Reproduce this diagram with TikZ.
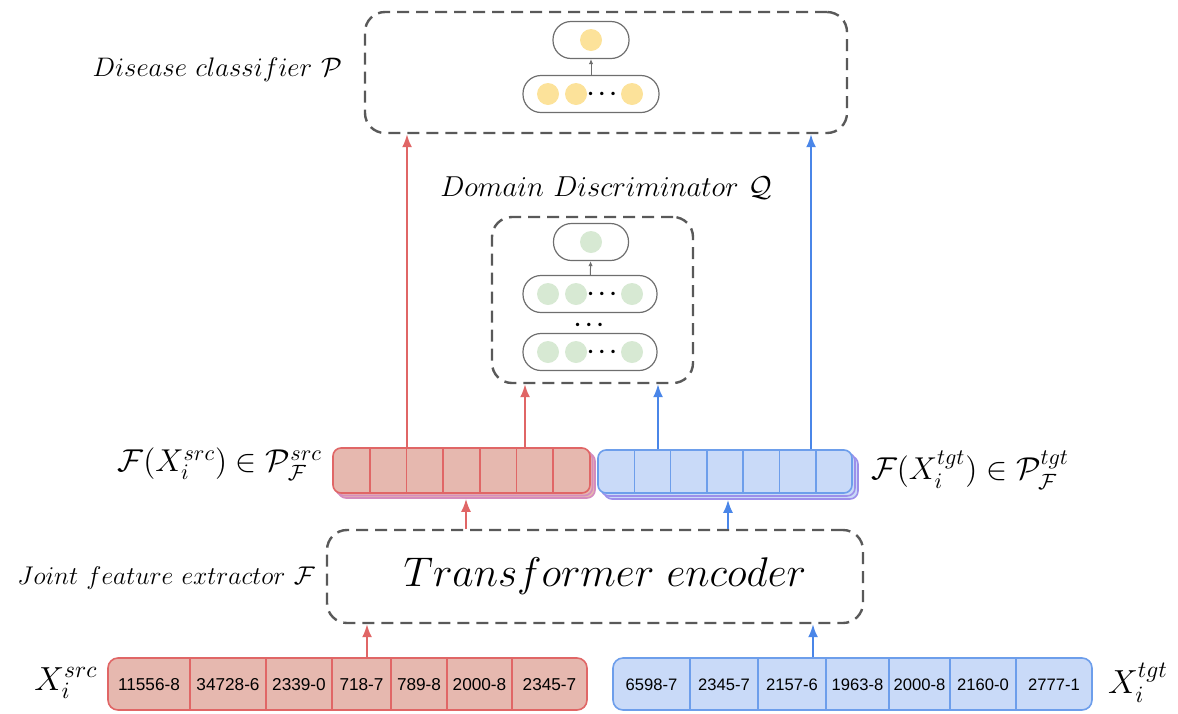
\RequirePackage{fix-cm}
\documentclass[tikz,border=0pt]{standalone}
\usepackage{amsmath, amssymb}
\usepackage{fontspec}
\newfontfamily\codefont{Liberation Sans}
\usepackage{tikz}
\usetikzlibrary{positioning,arrows.meta,fit}
\definecolor{boxgray}{HTML}{595959}
\definecolor{layergray}{HTML}{6E6E6E}
\definecolor{unitgold}{HTML}{FCE29A}
\definecolor{unitgreen}{HTML}{D7E9D3}
\definecolor{srcfill}{HTML}{E6B8AF}
\definecolor{srcline}{HTML}{E06666}
\definecolor{srcshade}{HTML}{D58CBE}
\definecolor{tgtfill}{HTML}{C9DAF8}
\definecolor{tgtline}{HTML}{6D9EEB}
\definecolor{tgtshade}{HTML}{9C8FEA}
\definecolor{tgtarrow}{HTML}{4A86E8}
\tikzset{
  modbox/.style={draw=boxgray, line width=1.2pt, dash pattern=on 6pt off 3.5pt, rounded corners=10pt},
  layerbox/.style={draw=layergray, line width=0.6pt, rounded corners=9pt, minimum height=18.5pt},
  unit/.style={circle, minimum size=11pt, inner sep=0pt},
  unitdots/.style={font=\fontsize{11}{12}\selectfont, inner sep=0pt},
  featsrc/.style={draw=srcline, fill=srcfill, line width=0.8pt, rounded corners=4pt, minimum width=128.5pt, minimum height=22.5pt},
  feattgt/.style={draw=tgtline, fill=tgtfill, line width=0.8pt, rounded corners=4pt, minimum width=127pt, minimum height=21.5pt},
  inbar/.style={line width=0.8pt, rounded corners=5pt, minimum width=239.5pt, minimum height=26pt},
  token/.style={inner sep=0pt},
  srcflow/.style={-{Latex[length=6.5pt,width=5pt]}, draw=srcline, line width=1pt},
  tgtflow/.style={-{Latex[length=6.5pt,width=5pt]}, draw=tgtarrow, line width=1pt},
  tinyflow/.style={-{Latex[length=2.5pt,width=2.2pt]}, draw=layergray, line width=0.5pt},
  lbl/.style={font=\fontsize{13.4}{16}\selectfont},
  mathlbl/.style={font=\fontsize{15.8}{18}\selectfont}
}

\begin{document}
\begin{tikzpicture}[x=0.5pt, y=-0.5pt, >=Latex]
  \useasboundingbox (0,0) rectangle (1178,713);

  % disease classifier
  \node[modbox, minimum width=241pt, minimum height=60.5pt] (clf) at (606,72.5) {};
  \node[layerbox, minimum width=38pt] (clfout) at (591,40) {};
  \node[unit, fill=unitgold] (clfo) at (clfout) {};
  \node[layerbox, minimum width=68pt] (clfhid) at (591,94) {};
  \node[unit, fill=unitgold] (clfh1) at (548,94) {};
  \node[unit, fill=unitgold] (clfh2) at (576,94) {};
  \node[unitdots] (clfdots) at (604,94) {$\boldsymbol{\cdots}$};
  \node[unit, fill=unitgold] (clfh3) at (632,94) {};
  \draw[tinyflow] (clfhid) -- (clfout);
  \node[lbl, anchor=east] (clflbl) at (349,70) {$Disease\ classifier\ \mathcal{P}$};

  % domain discriminator
  \node[lbl, font=\fontsize{14.4}{17}\selectfont] (dislbl) at (606,188) {$Domain\ Discriminator\ \mathcal{Q}$};
  \node[modbox, minimum width=100.5pt, minimum height=83pt] (dis) at (592.5,300) {};
  \node[layerbox, minimum width=37.5pt] (disout) at (591,242) {};
  \node[unit, fill=unitgreen] (diso) at (disout) {};
  \node[layerbox, minimum width=67pt] (dishid) at (590,294) {};
  \node[unit, fill=unitgreen] (dish1) at (548,294) {};
  \node[unit, fill=unitgreen] (dish2) at (576,294) {};
  \node[unitdots] (disdots) at (604,294) {$\boldsymbol{\cdots}$};
  \node[unit, fill=unitgreen] (dish3) at (632,294) {};
  \node[unitdots] (dismid) at (591,325) {$\boldsymbol{\cdots}$};
  \node[layerbox, minimum width=67pt] (disin) at (590,352) {};
  \node[unit, fill=unitgreen] (disi1) at (548,352) {};
  \node[unit, fill=unitgreen] (disi2) at (576,352) {};
  \node[unitdots] (disidots) at (604,352) {$\boldsymbol{\cdots}$};
  \node[unit, fill=unitgreen] (disi3) at (632,352) {};
  \draw[tinyflow] (dishid) -- (disout);

  % feature stacks
  \node[featsrc, draw=srcshade] (srcfeatc) at (466.5,475.5) {};
  \node[featsrc, draw=srcshade] (srcfeatb) at (464,473) {};
  \node[featsrc] (srcfeat) at (461.5,470.5) {};
  \foreach \k in {1,...,6}
    \draw[srcline, line width=0.8pt] (333+\k*36.7,448) -- (333+\k*36.7,493);
  \node[feattgt, draw=tgtshade] (tgtfeatc) at (731,477.5) {};
  \node[feattgt, draw=tgtshade] (tgtfeatb) at (728,474.5) {};
  \node[feattgt] (tgtfeat) at (725,471.5) {};
  \foreach \k in {1,...,6}
    \draw[tgtline, line width=0.8pt] (598+\k*36.3,450) -- (598+\k*36.3,493);
  \node[mathlbl, anchor=east] (srcflbl) at (329,464) {$\mathcal{F}(X_i^{src}) \in \mathcal{P}_{\mathcal{F}}^{src}$};
  \node[mathlbl, anchor=west] (tgtflbl) at (864,470) {$\mathcal{F}(X_i^{tgt}) \in \mathcal{P}_{\mathcal{F}}^{tgt}$};

  % transformer encoder
  \node[modbox, minimum width=268pt, minimum height=46.5pt] (enc) at (595,576.5) {};
  \node[font=\fontsize{20.74}{25}\selectfont] (enctxt) at (605,576) {$Transformer\ encoder$};
  \node[lbl, font=\fontsize{12.8}{15}\selectfont, anchor=east] (enclbl) at (322,578) {$Joint\ feature\ extractor\ \mathcal{F}$};

  % input code sequences
  \node[inbar, draw=srcline, fill=srcfill] (srcin) at (347.5,684) {};
  \foreach \bx in {190,266,332,391,447,512}
    \draw[srcline, line width=0.8pt] (\bx,658) -- (\bx,710);
  \foreach \cx/\code [count=\n] in {149/11556-8, 228/34728-6, 299/2339-0, 361.5/718-7,
                                   419/789-8, 479.5/2000-8, 549.5/2345-7}
    \node[token, font=\codefont\fontsize{8.6}{10}\selectfont] (src\n) at (\cx,685) {\code};
  \node[inbar, draw=tgtline, fill=tgtfill] (tgtin) at (852.5,684) {};
  \foreach \bx in {690,758,826,889,950,1016}
    \draw[tgtline, line width=0.8pt] (\bx,658) -- (\bx,710);
  \foreach \cx/\code [count=\n] in {651.5/6598-7, 724/2345-7, 792/2157-6, 857.5/1963-8,
                                   919.5/2000-8, 983/2160-0, 1054/2777-1}
    \node[token, font=\codefont\fontsize{8.3}{10}\selectfont] (tgt\n) at (\cx,685) {\code};
  \node[mathlbl, font=\fontsize{16.7}{20}\selectfont] (xsrc) at (66,683) {$X_i^{src}$};
  \node[mathlbl, font=\fontsize{16.7}{20}\selectfont] (xtgt) at (1138,683) {$X_i^{tgt}$};

  % arrow columns
  \coordinate (ca) at (367,0);
  \coordinate (cb) at (813,0);
  \coordinate (cc) at (466,0);
  \coordinate (cd) at (728,0);
  \coordinate (ce) at (407,0);
  \coordinate (cf) at (525,0);
  \coordinate (cg) at (658,0);
  \coordinate (ch) at (811,0);

  \draw[srcflow] (srcin.north -| ca) -- (enc.south -| ca);
  \draw[tgtflow] (tgtin.north -| cb) -- (enc.south -| cb);
  \draw[srcflow] (enc.north -| cc) -- (srcfeatc.south -| cc);
  \draw[tgtflow] (enc.north -| cd) -- (tgtfeatc.south -| cd);
  \draw[srcflow] (srcfeat.north -| ce) -- (clf.south -| ce);
  \draw[srcflow] (srcfeat.north -| cf) -- (dis.south -| cf);
  \draw[tgtflow] (tgtfeat.north -| cg) -- (dis.south -| cg);
  \draw[tgtflow] (tgtfeat.north -| ch) -- (clf.south -| ch);
\end{tikzpicture}
\end{document}
